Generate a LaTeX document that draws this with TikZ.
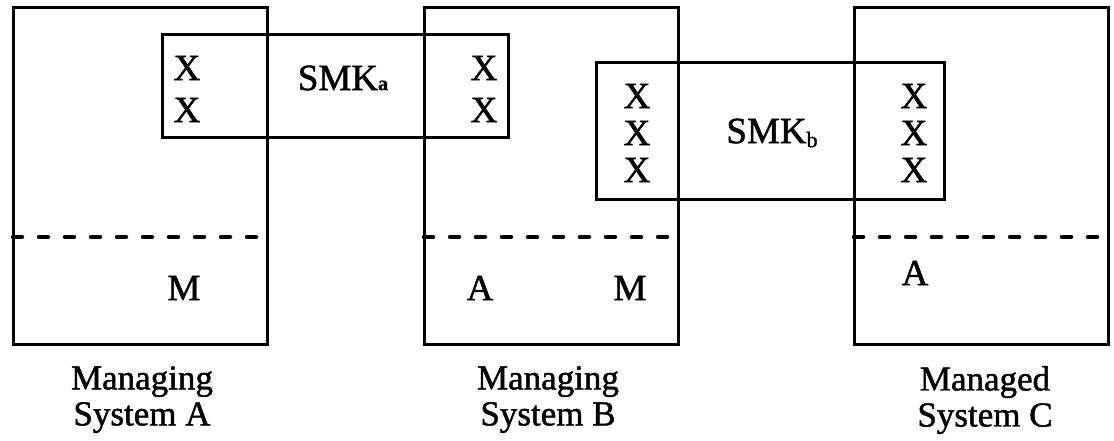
\documentclass[tikz,border=0pt]{standalone}
\usepackage{fontspec}
\setmainfont{Liberation Serif}[FakeBold=1.3]
\begin{document}
\begin{tikzpicture}[x=1pt,y=-1pt,
  sysbox/.style={draw, line width=3pt, inner sep=0pt, outer sep=0pt},
  divline/.style={line width=4.5pt, line cap=round, dash pattern=on 9pt off 17pt},
  letter/.style={inner sep=0pt, font=\fontsize{37}{40}\selectfont},
  caption/.style={inner sep=0pt, anchor=north, align=center, font=\fontsize{35}{36}\selectfont}]
\path[use as bounding box] (0,0) rectangle (1114,441);
% systems
\node[sysbox, minimum width=254pt, minimum height=336pt] (A) at (140,176) {};
\node[sysbox, minimum width=254pt, minimum height=336pt] (B) at (551,176) {};
\node[sysbox, minimum width=254pt, minimum height=336pt] (C) at (981,176) {};
% SMK boxes
\node[sysbox, minimum width=346pt, minimum height=103pt] (SA) at (335,86.5) {};
\node[sysbox, minimum width=348pt, minimum height=136pt] (SB) at (770,131) {};
% dashed separators
\draw[divline] (A.west |- 0,237) -- (A.east |- 0,237);
\draw[divline] (B.west |- 0,237) -- (B.east |- 0,237);
\draw[divline] (C.west |- 0,237) -- (C.east |- 0,237);
% SMKa contents
\node[letter] (xa1) at (187,68) {X};
\node[letter] (xa2) at (187,110) {X};
\node[letter] (xa3) at (484,68) {X};
\node[letter] (xa4) at (484,110) {X};
\node[letter] (smka) at (343,78) {SMK{\fontsize{20}{20}\selectfont\bfseries a}};
% SMKb contents
\node[letter] (xb1) at (637,96) {X};
\node[letter] (xb2) at (637,133) {X};
\node[letter] (xb3) at (637,170) {X};
\node[letter] (xb4) at (914,96) {X};
\node[letter] (xb5) at (914,133) {X};
\node[letter] (xb6) at (914,170) {X};
\node[letter] (smkb) at (772,133) {SMK\raisebox{-4pt}{\fontsize{22}{22}\selectfont b}};
% roles
\node[letter] (mA) at (184,288) {M};
\node[letter] (aB) at (480,288) {A};
\node[letter] (mB) at (630,288) {M};
\node[letter] (aC) at (915,273) {A};
% captions
\node[caption] (capA) at (142,366) {Managing\\System A};
\node[caption] (capB) at (548,366) {Managing\\System B};
\node[caption] (capC) at (985,366) {Managed\\System C};
\end{tikzpicture}
\end{document}
